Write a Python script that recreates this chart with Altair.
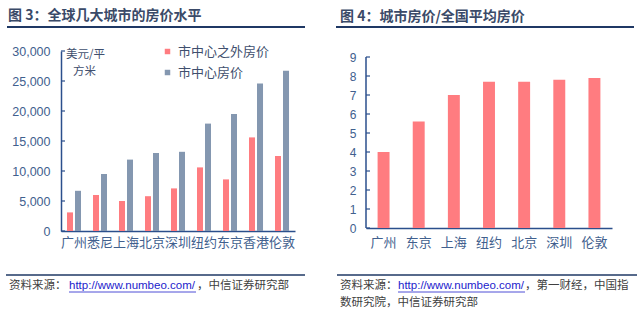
import altair as alt
import pandas as pd

# ---- data ----
cities3 = ["广州", "悉尼", "上海", "北京", "深圳", "纽约", "东京", "香港", "伦敦"]
outer3 = [3100, 6000, 5000, 5800, 7100, 10600, 8600, 15600, 12500]
center3 = [6700, 9500, 11900, 13000, 13200, 17900, 19500, 24600, 26700]
series3 = ["市中心之外房价", "市中心房价"]
ticks3 = [0, 5000, 10000, 15000, 20000, 25000, 30000]

cities4 = ["广州", "东京", "上海", "纽约", "北京", "深圳", "伦敦"]
ratio4 = [4.0, 5.6, 7.0, 7.7, 7.7, 7.8, 7.9]
ticks4 = [0, 1, 2, 3, 4, 5, 6, 7, 8, 9]

RED = "#FF7C80"
GRAY = "#8497B0"
AX = "#2B4F8C"
LC = "#41608E"
TC = "#3A4A68"
NAVY = "#1F3864"
FC = "#404040"
URL = "#2222CC"
CJK = "Noto Sans CJK SC"
LAT = "Liberation Sans, Noto Sans CJK SC"

df3 = pd.DataFrame({
    "city": cities3 * 2,
    "series": [series3[0]] * len(cities3) + [series3[1]] * len(cities3),
    "value": outer3 + center3,
})
df4 = pd.DataFrame({"city": cities4, "ratio": ratio4})
t3 = pd.DataFrame({"t": ticks3})
t4 = pd.DataFrame({"t": ticks4})
one = pd.DataFrame({"k": [0]})


def txt(s, x, y, size=11.5, color=FC, font=CJK, weight="normal"):
    return alt.Chart(one).mark_text(
        text=s, align="left", baseline="middle", fontSize=size, color=color,
        font=font, fontWeight=weight
    ).encode(x=alt.value(x), y=alt.value(y))


def hline(x1, x2, y, color=NAVY, w=1.5):
    return alt.Chart(one).mark_rule(color=color, strokeWidth=w).encode(
        x=alt.value(x1), x2=alt.value(x2), y=alt.value(y))


def box(x1, x2, y1, y2):
    return alt.Chart(one).mark_rect(opacity=0).encode(
        x=alt.value(x1), x2=alt.value(x2), y=alt.value(y1), y2=alt.value(y2))


# ---- left panel (plot origin 61,51; 234 x 180) ----
yscale3 = alt.Scale(domain=[0, 30000], nice=False)
yaxis3 = alt.Axis(values=ticks3, format=",d", title=None, grid=False,
                  ticks=False, domainColor=AX, domainWidth=1.5,
                  labelPadding=11, labelFontSize=12.5, labelColor=LC,
                  labelFont=LAT, labelOverlap=False)
bars3 = alt.Chart(df3).mark_bar().encode(
    x=alt.X("city:N", sort=cities3,
            scale=alt.Scale(paddingInner=0.46, paddingOuter=0.23),
            axis=alt.Axis(title=None, labelAngle=0, ticks=False, domainColor=AX,
                          domainWidth=1.5, labelFontSize=13, labelColor=LC,
                          labelPadding=5, labelOverlap=False, labelFont=CJK)),
    xOffset=alt.XOffset("series:N", sort=series3, scale=alt.Scale(paddingInner=0.25)),
    y=alt.Y("value:Q", scale=yscale3, axis=yaxis3),
    color=alt.Color("series:N", sort=series3,
                    scale=alt.Scale(domain=series3, range=[RED, GRAY]),
                    legend=alt.Legend(orient="none", legendX=100, legendY=-6,
                                      title=None, symbolType="square", symbolSize=30,
                                      symbolStrokeWidth=0, labelFontSize=13,
                                      labelColor="#3F4F6E", labelFont=CJK,
                                      labelOffset=4, rowPadding=7, padding=0)),
)
tk3 = alt.Chart(t3).mark_rule(color=AX, strokeWidth=1.2).encode(
    y=alt.Y("t:Q", scale=yscale3, axis=yaxis3), x=alt.value(0), x2=alt.value(4))

left = alt.layer(
    box(-61, 259, -51, 265),
    bars3, tk3,
    txt("图 3：全球几大城市的房价水平", -53, -35, size=14, color=TC, weight="bold"),
    hline(-54, 244, -24, w=2),
    txt("美元/平", 5, 4, size=11.5, color="#3F4F6E"),
    txt("方米", 12, 21, size=11.5, color="#3F4F6E"),
    hline(-55, 244, 224, w=1.5),
    txt("资料来源：", -52, 235),
    txt("http://www.numbeo.com/", 8, 235, color=URL, font=LAT),
    hline(8, 135, 241, color=URL, w=0.8),
    txt("，中信证券研究部", 136, 235),
).properties(width=234, height=180)

# ---- right panel (plot origin 366,51; 246 x 177, value 9 at 6px below top) ----
yscale4 = alt.Scale(domain=[0, 9.316], nice=False)
yaxis4 = alt.Axis(values=ticks4, format="d", title=None, grid=False,
                  ticks=False, domain=False,
                  labelPadding=10, labelFontSize=12, labelColor=LC,
                  labelFont=LAT, labelOverlap=False)
bars4 = alt.Chart(df4).mark_bar(color=RED).encode(
    x=alt.X("city:N", sort=cities4,
            scale=alt.Scale(paddingInner=0.66, paddingOuter=0.33),
            axis=alt.Axis(title=None, labelAngle=0, ticks=False, domainColor=AX,
                          domainWidth=1.5, labelFontSize=13, labelColor=LC,
                          labelPadding=8, labelOverlap=False, labelFont=CJK)),
    y=alt.Y("ratio:Q", scale=yscale4, axis=yaxis4),
)
tk4 = alt.Chart(t4).mark_rule(color=AX, strokeWidth=1.2).encode(
    y=alt.Y("t:Q", scale=yscale4, axis=yaxis4), x=alt.value(0), x2=alt.value(4))
ax4 = alt.Chart(one).mark_rule(color=AX, strokeWidth=1.5).encode(
    x=alt.value(0),
    y=alt.YDatum(ticks4[0], type="quantitative", scale=yscale4, axis=yaxis4),
    y2=alt.Y2Datum(ticks4[-1]))

right = alt.layer(
    box(-46, 274, -51, 265),
    bars4, tk4, ax4,
    txt("图 4：城市房价/全国平均房价", -26, -34, size=14, color=TC, weight="bold"),
    hline(-30, 268, -24, w=2),
    hline(-29, 271, 224, w=1.5),
    txt("资料来源：", -26, 235),
    txt("http://www.numbeo.com/", 32, 235, color=URL, font=LAT),
    hline(32, 159, 241, color=URL, w=0.8),
    txt("，第一财经，中国指", 159, 235),
    txt("数研究院，中信证券研究部", -26, 252),
).properties(width=246, height=177)

chart = alt.hconcat(left, right, spacing=0).properties(padding=0).configure_view(
    strokeWidth=0).configure_concat(spacing=0)

chart.save("out.html", embed_options={"renderer": "svg", "actions": False})
